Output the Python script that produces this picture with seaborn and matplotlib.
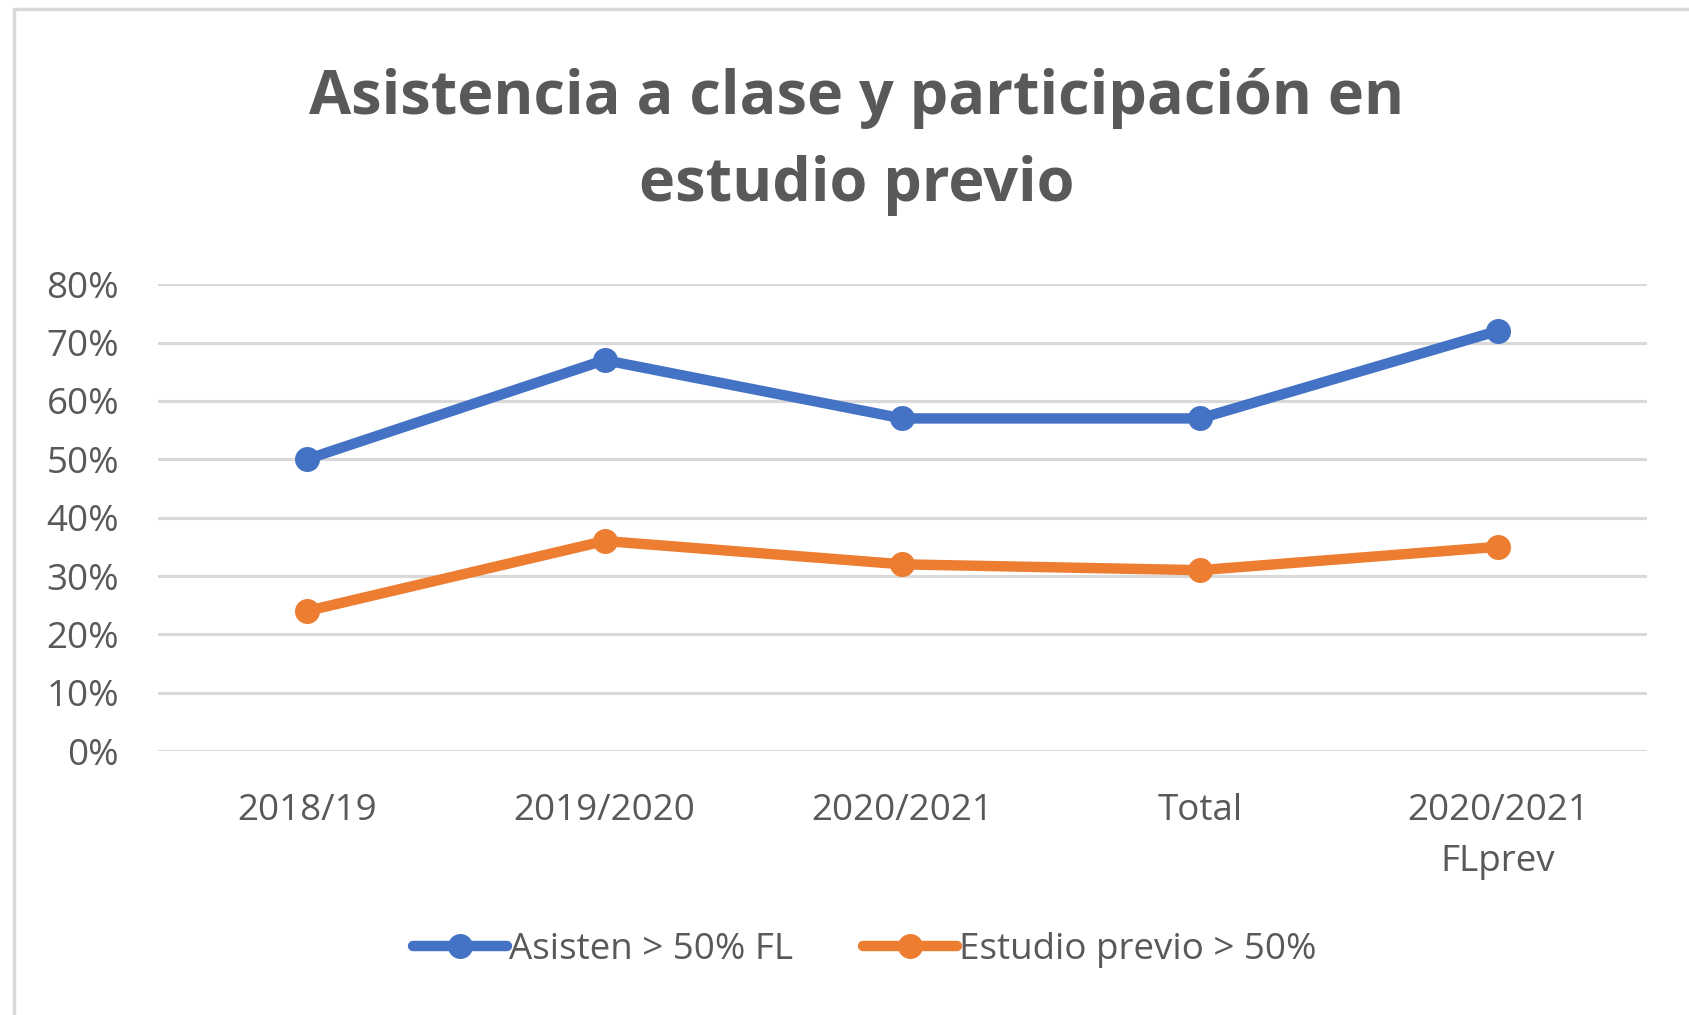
import pandas as pd
import seaborn as sns
import matplotlib.pyplot as plt
from matplotlib.patches import Rectangle
from matplotlib.ticker import PercentFormatter

# Data
categories = ['2018/19', '2019/2020', '2020/2021', 'Total', '2020/2021\nFLprev']
asisten = [0.50, 0.67, 0.57, 0.57, 0.72]
estudio = [0.24, 0.36, 0.32, 0.31, 0.35]
series_names = ['Asisten > 50% FL', 'Estudio previo > 50%']
colors = ['#4472C4', '#ED7D31']

df = pd.DataFrame({
    'periodo': categories * 2,
    'valor': asisten + estudio,
    'serie': [series_names[0]] * len(categories) + [series_names[1]] * len(categories),
})

sns.set_style('white')
plt.rcParams['font.family'] = ['Open Sans', 'DejaVu Sans']
text_color = '#595959'

fig = plt.figure(figsize=(16.89, 10.15), dpi=100)
ax = fig.add_axes([0.0935, 0.260, 0.8815, 0.460])

sns.lineplot(
    data=df, x='periodo', y='valor', hue='serie',
    palette=colors, marker='o', markersize=18, markeredgewidth=0,
    linewidth=7.5, sort=False, ax=ax, legend=False,
)

# Axes styling
ax.set_ylim(0, 0.8)
ax.set_xlim(-0.5, len(categories) - 0.5)
ax.set_yticks([i / 10 for i in range(9)])
ax.yaxis.set_major_formatter(PercentFormatter(1.0, decimals=0))
ax.grid(axis='y', color='#D9D9D9', linewidth=2.2)
ax.set_axisbelow(True)
for s in ax.spines.values():
    s.set_visible(False)
ax.set_xlabel('')
ax.set_ylabel('')
ax.tick_params(axis='both', length=0, labelsize=26.5, labelcolor=text_color)
ax.tick_params(axis='y', pad=28)
ax.tick_params(axis='x', pad=30)
for lbl in ax.get_xticklabels():
    lbl.set_linespacing(1.55)

# Title
fig.text(0.507, 0.860, 'Asistencia a clase y participación en\nestudio previo',
         ha='center', va='center', fontsize=44, fontweight='bold',
         color=text_color, linespacing=1.57)

# Legend
handles = [plt.Line2D([], [], color=c, linewidth=7.5, marker='o',
                      markersize=18, markeredgewidth=0) for c in colors]
fig.legend(handles, series_names, loc='center', bbox_to_anchor=(0.512, 0.064),
           ncol=2, frameon=False, fontsize=26.5, labelcolor=text_color,
           handlelength=2.55, handletextpad=0.05, columnspacing=1.9)

# Chart frame (left/top edges visible)
fig.patches.append(Rectangle((0.0085, -0.05), 1.2, 1.041, transform=fig.transFigure,
                             fill=False, edgecolor='#D9D9D9', linewidth=2.5))

fig.savefig('out.png', dpi=100)
